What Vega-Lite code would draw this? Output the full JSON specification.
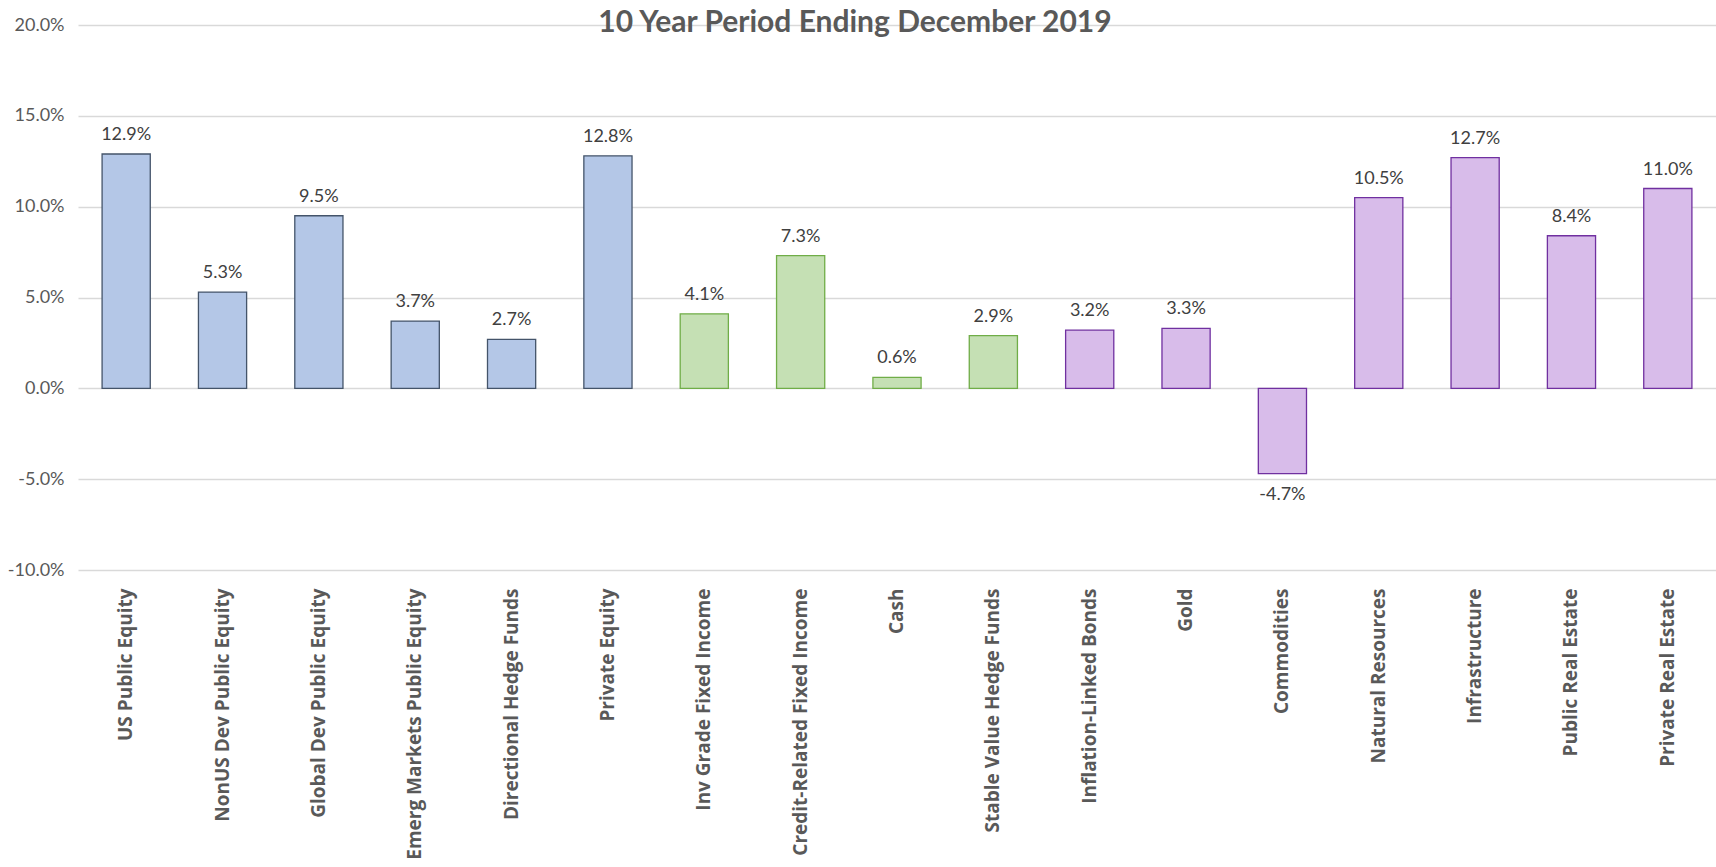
{
  "$schema": "https://vega.github.io/schema/vega-lite/v6.json",
  "autosize": {"type": "none"},
  "width": 1638,
  "height": 545,
  "padding": {"left": 78, "top": 25, "right": 0, "bottom": 297},
  "background": "white",
  "title": {
    "text": "10 Year Period Ending December 2019",
    "font": "Lato",
    "fontSize": 30,
    "fontWeight": "bold",
    "color": "#595959",
    "anchor": "middle",
    "dx": -42,
    "offset": -22
  },
  "config": {
    "view": {"stroke": null},
    "axis": {"grid": false, "domain": false, "ticks": false},
    "locale": {
      "number": {"decimal": ".", "thousands": ",", "grouping": [3], "currency": ["$", ""], "minus": "-"}
    }
  },
  "data": {
    "values": [
      {"asset": "US Public Equity", "group": "Equity", "ret": 0.129},
      {"asset": "NonUS Dev Public Equity", "group": "Equity", "ret": 0.053},
      {"asset": "Global Dev Public Equity", "group": "Equity", "ret": 0.095},
      {"asset": "Emerg Markets Public Equity", "group": "Equity", "ret": 0.037},
      {"asset": "Directional Hedge Funds", "group": "Equity", "ret": 0.027},
      {"asset": "Private Equity", "group": "Equity", "ret": 0.128},
      {"asset": "Inv Grade Fixed Income", "group": "Fixed", "ret": 0.041},
      {"asset": "Credit-Related Fixed Income", "group": "Fixed", "ret": 0.073},
      {"asset": "Cash", "group": "Fixed", "ret": 0.006},
      {"asset": "Stable Value Hedge Funds", "group": "Fixed", "ret": 0.029},
      {"asset": "Inflation-Linked Bonds", "group": "Real", "ret": 0.032},
      {"asset": "Gold", "group": "Real", "ret": 0.033},
      {"asset": "Commodities", "group": "Real", "ret": -0.047},
      {"asset": "Natural Resources", "group": "Real", "ret": 0.105},
      {"asset": "Infrastructure", "group": "Real", "ret": 0.127},
      {"asset": "Public Real Estate", "group": "Real", "ret": 0.084},
      {"asset": "Private Real Estate", "group": "Real", "ret": 0.110}
    ]
  },
  "encoding": {
    "x": {
      "field": "asset",
      "type": "nominal",
      "sort": null,
      "scale": {"paddingInner": 0.5, "paddingOuter": 0.25},
      "axis": {
        "title": null,
        "labelAngle": -90,
        "labelAlign": "right",
        "labelBaseline": "middle",
        "labelPadding": 18,
        "labelFont": "Open Sans",
        "labelFontWeight": "bold",
        "labelFontSize": 19,
        "labelColor": "#595959",
        "labelLimit": 400
      }
    },
    "y": {
      "field": "ret",
      "type": "quantitative",
      "scale": {"domain": [-0.1, 0.2], "nice": false, "zero": false},
      "axis": {
        "title": null,
        "values": [-0.1, -0.05, 0, 0.05, 0.1, 0.15, 0.2],
        "format": ".1%",
        "grid": true,
        "gridColor": "#D9D9D9",
        "gridWidth": 1.3,
        "labelFont": "Lato",
        "labelFontSize": 18,
        "labelColor": "#595959",
        "labelPadding": 14
      }
    }
  },
  "layer": [
    {
      "mark": {"type": "bar", "strokeWidth": 1.3},
      "encoding": {
        "fill": {
          "field": "group",
          "type": "nominal",
          "scale": {"domain": ["Equity", "Fixed", "Real"], "range": ["#B4C7E7", "#C5E0B4", "#D8BCEA"]},
          "legend": null
        },
        "stroke": {
          "field": "group",
          "type": "nominal",
          "scale": {"domain": ["Equity", "Fixed", "Real"], "range": ["#44546A", "#70AD47", "#7030A0"]},
          "legend": null
        }
      }
    },
    {
      "transform": [{"filter": "datum.ret >= 0"}],
      "mark": {"type": "text", "baseline": "bottom", "dy": -10, "font": "Lato", "fontSize": 18, "color": "#404040"},
      "encoding": {"text": {"field": "ret", "type": "quantitative", "format": ".1%"}}
    },
    {
      "transform": [{"filter": "datum.ret < 0"}],
      "mark": {"type": "text", "baseline": "top", "dy": 12, "font": "Lato", "fontSize": 18, "color": "#404040"},
      "encoding": {"text": {"field": "ret", "type": "quantitative", "format": ".1%"}}
    }
  ]
}
